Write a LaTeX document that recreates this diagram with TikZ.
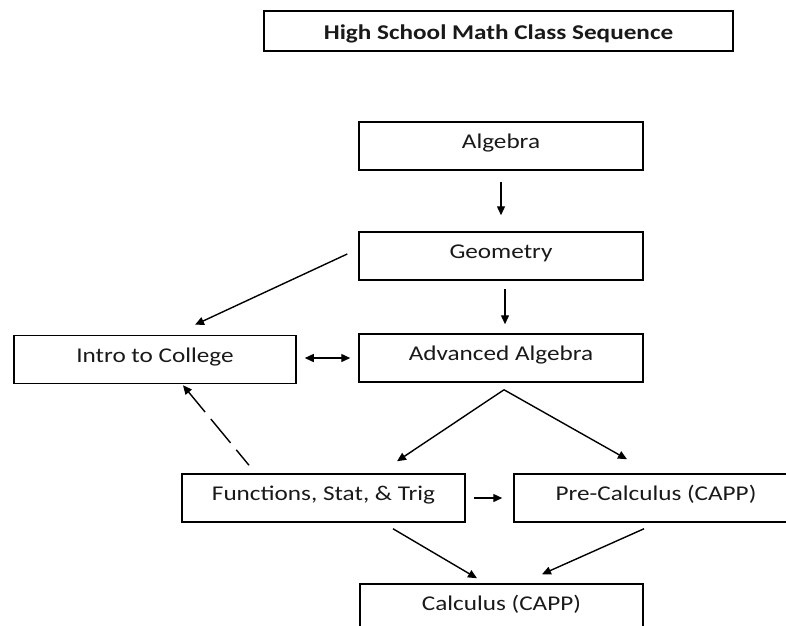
\documentclass[tikz,border=0pt]{standalone}
\usepackage{fontspec}
\setmainfont{Carlito}[FakeStretch=1.2]
\usetikzlibrary{arrows.meta}
\begin{document}
\begin{tikzpicture}[x=1pt,y=-1pt,
  box/.style={draw=black, line width=1.5pt, inner sep=0pt, minimum width=284pt,
    text height=26.5pt, text depth=21.5pt, font=\fontsize{21}{25}\selectfont, text=black!90},
  conn/.style={line width=1.4pt, -{Triangle[length=9pt,width=8pt]}},
  dconn/.style={conn, dash pattern=on 31pt off 9pt, dash phase=11pt}]
\useasboundingbox (0,0) rectangle (786,625);
\clip (0,0) rectangle (786,625);
\node[box, minimum width=469pt, text height=28.5pt, text depth=11.5pt, font=\fontsize{21}{25}\selectfont\bfseries] (title) at (498.5,31) {High School Math Class Sequence};
\node[box] (alg) at (501,146) {Algebra};
\node[box] (geo) at (501,256) {Geometry};
\node[box] (adv) at (501,358) {Advanced Algebra};
\node[box, minimum width=282pt] (intro) at (155,359.5) {Intro to College};
\node[box, minimum width=283pt] (fst) at (323.5,498) {Functions, Stat, \& Trig};
\node[box] (pre) at (656,498) {Pre-Calculus (CAPP)};
\node[box, minimum width=283pt] (calc) at (501.5,608) {Calculus (CAPP)};
\draw[conn] ([shift={(0,11)}]alg.south) -- ([shift={(0,-16)}]geo.north);
\draw[conn] ([shift={(4,8)}]geo.south) -- ([shift={(4,-9)}]adv.north);
\draw[conn] ([shift={(-11,-2)}]geo.west) -- ([shift={(40,-10)}]intro.north);
\draw[conn, {Triangle[length=9pt,width=8pt]}-{Triangle[length=9pt,width=8pt]}] ([shift={(8,-1.5)}]intro.east) -- ([shift={(-8,0)}]adv.west);
\coordinate (apex) at ([shift={(3,7)}]adv.south);
\draw[conn] (apex) -- ([shift={(73.5,-12)}]fst.north);
\draw[conn] (apex) -- ([shift={(-29,-14)}]pre.north);
\draw[dconn] ([shift={(-74.5,-8)}]fst.north) -- ([shift={(28,1)}]intro.south);
\draw[conn] ([shift={(8,0)}]fst.east) -- ([shift={(-11,0)}]pre.west);
\draw[conn] ([shift={(69.5,6)}]fst.south) -- ([shift={(-24.5,-5)}]calc.north);
\draw[conn] ([shift={(-12,6)}]pre.south) -- ([shift={(40.5,-9)}]calc.north);
\end{tikzpicture}
\end{document}
